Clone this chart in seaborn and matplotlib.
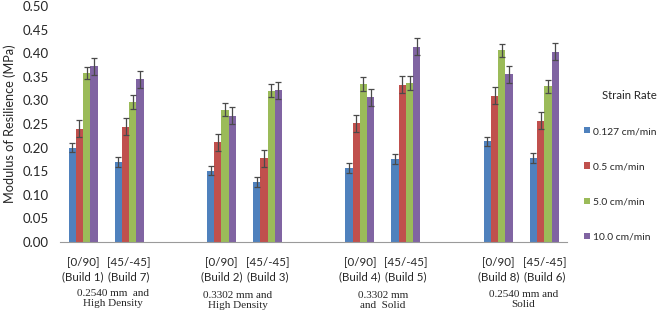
import matplotlib
matplotlib.use("Agg")
import matplotlib.pyplot as plt
import seaborn as sns
import pandas as pd

# categories (blank slots separate the four material groups)
slots = ["B1", "B7", " ", "B2", "B3", "  ", "B4", "B5", "   ", "B8", "B6"]
builds = ["B1", "B7", "B2", "B3", "B4", "B5", "B8", "B6"]
build_labels = ["[0/90]\n(Build 1)", "[45/-45]\n(Build 7)",
                "[0/90]\n(Build 2)", "[45/-45]\n(Build 3)",
                "[0/90]\n(Build 4)", "[45/-45]\n(Build 5)",
                "[0/90]\n(Build 8)", "[45/-45]\n(Build 6)"]
groups = ["0.2540 mm  and\nHigh Density", "0.3302 mm and\nHigh Density",
          "0.3302 mm\nand  Solid", "0.2540 mm and\nSolid"]
rates = ["0.127 cm/min", "0.5 cm/min", "5.0 cm/min", "10.0 cm/min"]

# modulus of resilience (MPa) per strain rate
v_0127 = [0.200, 0.170, 0.151, 0.127, 0.157, 0.176, 0.213, 0.178]
v_05 = [0.240, 0.244, 0.211, 0.177, 0.252, 0.333, 0.310, 0.257]
v_50 = [0.358, 0.296, 0.280, 0.321, 0.335, 0.337, 0.406, 0.330]
v_100 = [0.372, 0.345, 0.268, 0.322, 0.307, 0.414, 0.355, 0.403]

# error bar half-lengths
e_0127 = [0.010, 0.010, 0.010, 0.010, 0.010, 0.010, 0.010, 0.010]
e_05 = [0.018, 0.018, 0.018, 0.018, 0.018, 0.018, 0.018, 0.018]
e_50 = [0.013, 0.015, 0.014, 0.014, 0.014, 0.014, 0.014, 0.014]
e_100 = [0.018, 0.018, 0.018, 0.018, 0.018, 0.018, 0.018, 0.018]

values = [v_0127, v_05, v_50, v_100]
errors = [e_0127, e_05, e_50, e_100]
colors = ["#4F81BD", "#C0504D", "#9BBB59", "#8064A2"]

rows = []
for rate, vals, errs in zip(rates, values, errors):
    for b, v, e in zip(builds, vals, errs):
        rows.append({"build": b, "rate": rate, "value": v, "err": e})
df = pd.DataFrame(rows)

sns.set_style("white")
plt.rcParams["font.family"] = ["Lato", "DejaVu Sans"]

fig = plt.figure(figsize=(6.59, 3.16), dpi=100)
ax = fig.add_axes([0.091, 0.234, 0.770, 0.747])

sns.barplot(data=df, x="build", y="value", hue="rate", order=slots,
            hue_order=rates, palette=colors, width=0.63, gap=0,
            errorbar=None, ax=ax, edgecolor="none", saturation=1)

# error bars from the drawn bars
err_lookup = {(r["build"], r["rate"]): r["err"] for _, r in df.iterrows()}
for rate, cont in zip(rates, ax.containers):
    for bar in cont:
        h = bar.get_height()
        if h != h:
            continue
        xc = bar.get_x() + bar.get_width() / 2
        b = slots[int(round(xc))]
        ax.errorbar(xc, h, yerr=err_lookup[(b, rate)], color="#4a4a4a",
                    capsize=2.5, elinewidth=0.9, capthick=0.9, fmt="none")

ax.set_ylim(0, 0.5)
ax.set_xlim(-0.5, len(slots) - 0.5)
ax.set_yticks([i * 0.05 for i in range(11)])
ax.set_yticklabels([f"{i * 0.05:.2f}" for i in range(11)], fontsize=9.5)
ax.set_xticks(range(len(slots)))
lab = dict(zip(builds, build_labels))
ax.set_xticklabels([lab.get(s, "") for s in slots], fontsize=8.3, linespacing=1.45)
ax.tick_params(axis="x", length=0, pad=10)
ax.tick_params(axis="y", length=0, pad=8)

for s in ["top", "right", "left"]:
    ax.spines[s].set_visible(False)
ax.spines["bottom"].set_color("#9a9a9a")
ax.spines["bottom"].set_linewidth(0.8)

ax.set_xlabel("")
ax.set_ylabel("Modulus of Resilience (MPa)", fontsize=9.2, labelpad=5)

# group captions below the tick labels
offsets = [0.15, -0.15, 0.0, 0.05]
ypos = [-0.2, -0.208, -0.208, -0.203]
for i, g in enumerate(groups):
    xc = 3 * i + 0.5 + offsets[i]
    ax.text(xc, ypos[i], g, transform=ax.get_xaxis_transform(), ha="center",
            va="top", fontsize=8, family="Liberation Serif", linespacing=1.1)

leg = ax.legend(title="Strain Rate", loc="upper left", bbox_to_anchor=(1.033, 0.645),
                frameon=False, fontsize=7.4, title_fontsize=8.2,
                handlelength=0.55, handleheight=0.55, handletextpad=0.3,
                labelspacing=2.55, borderaxespad=0, borderpad=0,
                alignment="right")

fig.savefig("out.png", dpi=100)
